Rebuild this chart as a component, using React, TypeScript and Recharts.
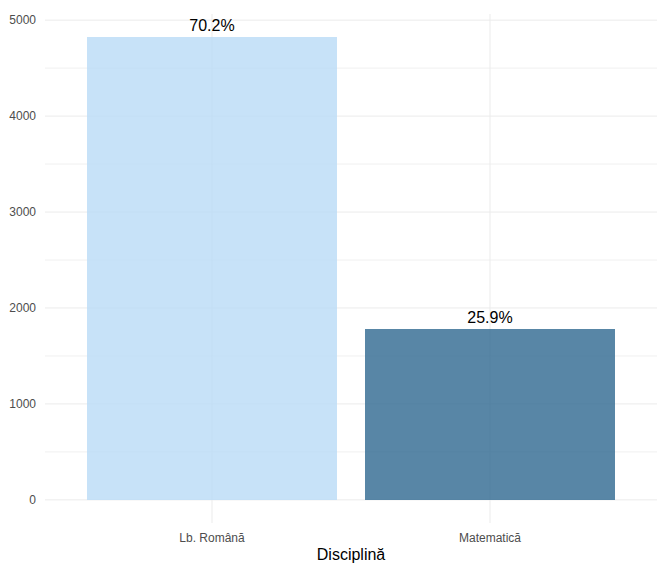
import { BarChart, Bar, XAxis, YAxis, CartesianGrid, LabelList, Cell } from 'recharts';

const categories = ['Lb. Română', 'Matematică'];
const counts = [4823, 1781];
const percentLabels = ['70.2%', '25.9%'];
const yTicks = [0, 1000, 2000, 3000, 4000, 5000];
const yMinorTicks = [500, 1500, 2500, 3500, 4500];
const barColors = ['#B9DBF6', '#2E6890'];

const data = categories.map((name, i) => ({ name, n: counts[i], pct: percentLabels[i] }));

const FONT = '"Liberation Sans", Arial, sans-serif';

export default function App() {
  return (
    <div style={{ width: 657, height: 563, background: '#fff' }}>
      <style>{'body{margin:0}'}</style>
      <BarChart
        width={657}
        height={563}
        data={data}
        margin={{ top: 14, right: 0, left: 0, bottom: 0 }}
        style={{ fontFamily: FONT }}
      >
        <CartesianGrid horizontalValues={yMinorTicks} vertical={false} stroke="#F0F0F0" syncWithTicks />
        <CartesianGrid stroke="#EBEBEB" syncWithTicks />
        <XAxis
          dataKey="name"
          height={40}
          axisLine={false}
          tickLine={false}
          tickMargin={4}
          padding={{ left: 28, right: 28 }}
          tick={{ fill: '#4D4D4D', fontSize: 12 }}
          label={{ value: 'Disciplină', position: 'insideBottom', offset: 3, fill: '#000', fontSize: 16 }}
        />
        <YAxis
          width={45}
          domain={[-241, 5064]}
          ticks={yTicks}
          axisLine={false}
          tickLine={false}
          tickMargin={3}
          tick={{ fill: '#4D4D4D', fontSize: 12 }}
        />
        <Bar dataKey="n" barSize={250} fillOpacity={0.8} isAnimationActive={false}>
          {data.map((d, i) => (
            <Cell key={d.name} fill={barColors[i]} />
          ))}
          <LabelList dataKey="pct" position="top" offset={6} fill="#000" fontSize={16} />
        </Bar>
      </BarChart>
    </div>
  );
}
